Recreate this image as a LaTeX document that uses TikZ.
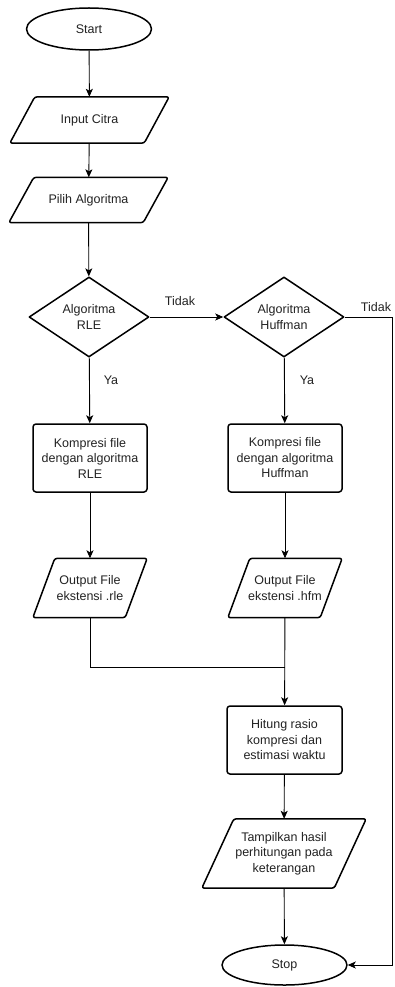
\documentclass[tikz,border=0pt]{standalone}
\usepackage{fontspec}
\setmainfont{Liberation Sans}
\usetikzlibrary{shapes.geometric,arrows.meta}
\definecolor{ink}{HTML}{222222}
\tikzset{
  every node/.style={font=\fontsize{12.5}{15.5}\selectfont, text=ink, align=center},
  shapeline/.style={draw=black, line width=1.5pt, line join=round},
  terminal/.style={shapeline, ellipse, minimum width=125pt, minimum height=42pt, inner sep=0pt},
  procbox/.style={shapeline, rectangle, rounded corners=3pt, minimum width=114pt, minimum height=68pt, inner sep=0pt},
  decision/.style={shapeline, diamond, shape aspect=1.5, minimum width=120pt, minimum height=80pt, inner sep=0pt},
  iobox/.style={rectangle, minimum width=#1, inner sep=0pt},
  conn/.style={draw=black, line width=0.9pt, -{Stealth[length=8pt,width=7pt,inset=2pt]}},
  plain/.style={draw=black, line width=0.9pt},
  lbl/.style={inner sep=0pt}
}
\begin{document}
\begin{tikzpicture}[x=1pt, y=-1pt]
\useasboundingbox (0,0) rectangle (394,987);

% main column
\node[terminal] (start) at (89,29) {Start};
\node[iobox=159pt, minimum height=46pt] (in) at (89.5,120) {Input Citra};
\node[iobox=159pt, minimum height=45pt] (pick) at (88.5,200) {Pilih Algoritma};
\node[decision] (rle) at (89,317) {Algoritma\\RLE};
\node[decision] (huf) at (284,317) {Algoritma\\Huffman};
\node[procbox] (kra) at (90,458) {Kompresi file\\dengan algoritma\\RLE};
\node[procbox] (krh) at (285,458) {Kompresi file\\dengan algoritma\\Huffman};
\node[iobox=114pt, minimum height=59pt] (outa) at (90,588) {Output File\\ekstensi .rle};
\node[iobox=114pt, minimum height=59pt] (outb) at (285,588) {Output File\\ekstensi .hfm};
\node[procbox, minimum width=115pt] (hit) at (284.5,740) {Hitung rasio\\kompresi dan\\estimasi waktu};
\node[iobox=164pt, minimum height=69pt] (show) at (284,853.5) {Tampilkan hasil\\perhitungan pada\\keterangan};
\node[terminal, minimum height=40pt] (stop) at (284.5,965) {Stop};

% parallelogram outlines for the input/output nodes
\foreach \n/\s in {in/25, pick/25, outa/22, outb/22, show/32}
  \draw[shapeline, rounded corners=2.5pt]
    ([xshift=\s pt]\n.north west) -- (\n.north east)
    -- ([xshift=-\s pt]\n.south east) -- (\n.south west) -- cycle;

% helper points for the routed connectors
\coordinate (rx) at (392,317);
\coordinate (jn) at (285,667);

% connectors
\draw[conn] (start) -- (in);
\draw[conn] (in) -- (pick);
\draw[conn] (pick) -- (rle);
\draw[conn] (rle) -- (huf);
\draw[conn] (huf.east) -- (rx) |- (stop.east);
\draw[conn] (rle) -- (kra);
\draw[conn] (huf) -- (krh);
\draw[conn] (kra) -- (outa);
\draw[conn] (krh) -- (outb);
\draw[plain] (outa.south) |- (jn);
\draw[conn] (outb) -- (hit);
\draw[conn] (hit) -- (show);
\draw[conn] (show) -- (stop);

% branch labels
\node[lbl] (t1) at (180,301) {Tidak};
\node[lbl] (t2) at (376,307) {Tidak};
\node[lbl] (y1) at (111,380) {Ya};
\node[lbl] (y2) at (307,380) {Ya};
\end{tikzpicture}
\end{document}
